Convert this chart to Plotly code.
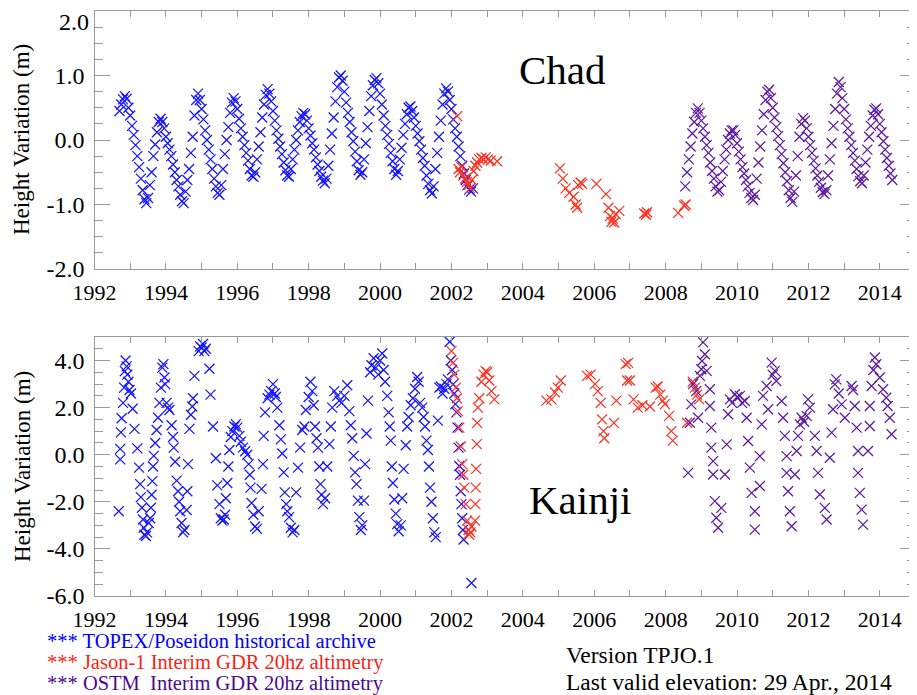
import plotly.graph_objects as go

# ---------------- DATA ----------------
# Chad - TOPEX/Poseidon
chad_topex_year = [
    1992.70, 1992.75, 1992.80, 1992.85, 1992.90, 1992.95, 1993.00, 1993.05, 1993.10, 1993.15,
    1993.20, 1993.25, 1993.30, 1993.35, 1993.40, 1993.45, 1993.50, 1993.55, 1993.60, 1993.65,
    1993.70, 1993.75, 1993.80, 1993.85, 1993.90, 1993.95, 1994.00, 1994.05, 1994.10, 1994.15,
    1994.20, 1994.25, 1994.30, 1994.35, 1994.40, 1994.45, 1994.50, 1994.55, 1994.60, 1994.65,
    1994.70, 1994.75, 1994.80, 1994.85, 1994.90, 1994.95, 1995.00, 1995.05, 1995.10, 1995.15,
    1995.20, 1995.25, 1995.30, 1995.35, 1995.40, 1995.45, 1995.50, 1995.55, 1995.60, 1995.65,
    1995.70, 1995.75, 1995.80, 1995.85, 1995.90, 1995.95, 1996.00, 1996.05, 1996.10, 1996.15,
    1996.20, 1996.25, 1996.30, 1996.35, 1996.40, 1996.45, 1996.50, 1996.55, 1996.60, 1996.65,
    1996.70, 1996.75, 1996.80, 1996.85, 1996.90, 1996.95, 1997.00, 1997.05, 1997.10, 1997.15,
    1997.20, 1997.25, 1997.30, 1997.35, 1997.40, 1997.45, 1997.50, 1997.55, 1997.60, 1997.65,
    1997.70, 1997.75, 1997.80, 1997.85, 1997.90, 1997.95, 1998.00, 1998.05, 1998.10, 1998.15,
    1998.20, 1998.25, 1998.30, 1998.35, 1998.40, 1998.45, 1998.50, 1998.55, 1998.60, 1998.65,
    1998.70, 1998.75, 1998.80, 1998.85, 1998.90, 1998.95, 1999.00, 1999.05, 1999.10, 1999.15,
    1999.20, 1999.25, 1999.30, 1999.35, 1999.40, 1999.45, 1999.50, 1999.55, 1999.60, 1999.65,
    1999.70, 1999.75, 1999.80, 1999.85, 1999.90, 1999.95, 2000.00, 2000.05, 2000.10, 2000.15,
    2000.20, 2000.25, 2000.30, 2000.35, 2000.40, 2000.45, 2000.50, 2000.55, 2000.60, 2000.65,
    2000.70, 2000.75, 2000.80, 2000.85, 2000.90, 2000.95, 2001.00, 2001.05, 2001.10, 2001.15,
    2001.20, 2001.25, 2001.30, 2001.35, 2001.40, 2001.45, 2001.50, 2001.55, 2001.60, 2001.65,
    2001.70, 2001.75, 2001.80, 2001.85, 2001.90, 2001.95, 2002.00, 2002.05, 2002.10, 2002.15,
    2002.20, 2002.25, 2002.30, 2002.35, 2002.40, 2002.45, 2002.50, 2002.55, 2002.60,
]
chad_topex_h = [
    0.45, 0.55, 0.63, 0.68, 0.64, 0.50, 0.38, 0.22, 0.08, -0.08,
    -0.25, -0.42, -0.60, -0.78, -0.92, -0.98, -0.90, -0.70, -0.50, -0.25,
    -0.07, 0.12, 0.28, 0.33, 0.28, 0.18, 0.05, -0.05, -0.15, -0.25,
    -0.38, -0.50, -0.62, -0.72, -0.85, -0.95, -0.98, -0.80, -0.62, -0.45,
    -0.20, 0.05, 0.38, 0.62, 0.72, 0.62, 0.48, 0.32, 0.15, 0.00,
    -0.15, -0.30, -0.45, -0.60, -0.72, -0.82, -0.85, -0.70, -0.45, -0.22,
    0.00, 0.20, 0.42, 0.58, 0.65, 0.60, 0.48, 0.33, 0.18, 0.05,
    -0.08, -0.20, -0.32, -0.45, -0.55, -0.57, -0.50, -0.30, -0.10, 0.12,
    0.35, 0.55, 0.70, 0.79, 0.72, 0.60, 0.45, 0.30, 0.15, 0.02,
    -0.10, -0.22, -0.35, -0.47, -0.55, -0.57, -0.45, -0.30, -0.15, 0.00,
    0.15, 0.28, 0.37, 0.42, 0.40, 0.30, 0.18, 0.07, -0.05, -0.15,
    -0.27, -0.38, -0.48, -0.57, -0.63, -0.67, -0.60, -0.40, -0.15, 0.10,
    0.35, 0.60, 0.82, 0.97, 1.00, 0.92, 0.75, 0.58, 0.42, 0.28,
    0.12, -0.02, -0.18, -0.33, -0.47, -0.54, -0.50, -0.30, -0.05, 0.20,
    0.45, 0.68, 0.85, 0.93, 0.96, 0.88, 0.72, 0.55, 0.38, 0.22,
    0.08, -0.06, -0.20, -0.33, -0.45, -0.54, -0.48, -0.30, -0.12, 0.08,
    0.25, 0.40, 0.50, 0.52, 0.45, 0.35, 0.22, 0.10, -0.02, -0.15,
    -0.28, -0.40, -0.55, -0.68, -0.78, -0.83, -0.72, -0.45, -0.20, 0.05,
    0.30, 0.55, 0.72, 0.80, 0.75, 0.62, 0.48, 0.32, 0.18, 0.05,
    -0.10, -0.25, -0.40, -0.52, -0.62, -0.70, -0.77, -0.80, -0.75,
]

# Chad - Jason-1
chad_jason_year = [
    2002.16, 2002.20, 2002.24, 2002.28, 2002.33, 2002.38, 2002.43, 2002.48, 2002.52, 2002.57,
    2002.62, 2002.67, 2002.72, 2002.78, 2002.84, 2002.90, 2002.96, 2003.02, 2003.10, 2003.28,
    2005.04, 2005.12, 2005.20, 2005.30, 2005.42, 2005.48, 2005.52, 2005.55, 2005.62, 2005.66,
    2006.06, 2006.33, 2006.40, 2006.44, 2006.48, 2006.52, 2006.56, 2006.60, 2006.70,
    2007.40, 2007.45, 2007.48, 2008.35, 2008.52, 2008.56,
]
chad_jason_h = [
    0.37, -0.45, -0.50, -0.42, -0.55, -0.60, -0.65, -0.70, -0.75, -0.62,
    -0.48, -0.40, -0.35, -0.30, -0.28, -0.30, -0.27, -0.30, -0.32, -0.33,
    -0.44, -0.60, -0.75, -0.82, -0.88, -1.00, -1.05, -0.70, -0.66, -0.68,
    -0.68, -0.84, -1.05, -1.18, -1.27, -1.22, -1.28, -1.15, -1.10,
    -1.14, -1.16, -1.12, -1.13, -1.02, -1.00,
]

# Chad - OSTM
chad_ostm_year = [
    2008.55, 2008.60, 2008.65, 2008.70, 2008.75, 2008.80, 2008.85, 2008.90, 2008.95, 2009.00,
    2009.05, 2009.10, 2009.15, 2009.20, 2009.25, 2009.30, 2009.35, 2009.40, 2009.45, 2009.50,
    2009.55, 2009.60, 2009.65, 2009.70, 2009.75, 2009.80, 2009.85, 2009.90, 2009.95, 2010.00,
    2010.05, 2010.10, 2010.15, 2010.20, 2010.25, 2010.30, 2010.35, 2010.40, 2010.45, 2010.50,
    2010.55, 2010.60, 2010.65, 2010.70, 2010.75, 2010.80, 2010.85, 2010.90, 2010.95, 2011.00,
    2011.05, 2011.10, 2011.15, 2011.20, 2011.25, 2011.30, 2011.35, 2011.40, 2011.45, 2011.50,
    2011.55, 2011.60, 2011.65, 2011.70, 2011.75, 2011.80, 2011.85, 2011.90, 2011.95, 2012.00,
    2012.05, 2012.10, 2012.15, 2012.20, 2012.25, 2012.30, 2012.35, 2012.40, 2012.45, 2012.50,
    2012.55, 2012.60, 2012.65, 2012.70, 2012.75, 2012.80, 2012.85, 2012.90, 2012.95, 2013.00,
    2013.05, 2013.10, 2013.15, 2013.20, 2013.25, 2013.30, 2013.35, 2013.40, 2013.45, 2013.50,
    2013.55, 2013.60, 2013.65, 2013.70, 2013.75, 2013.80, 2013.85, 2013.90, 2013.95, 2014.00,
    2014.05, 2014.10, 2014.15, 2014.20, 2014.25, 2014.30, 2014.35,
]
chad_ostm_h = [
    -0.72, -0.50, -0.30, -0.10, 0.10, 0.28, 0.42, 0.49, 0.42, 0.30,
    0.18, 0.05, -0.08, -0.20, -0.35, -0.48, -0.60, -0.72, -0.80, -0.78,
    -0.65, -0.48, -0.30, -0.15, 0.00, 0.10, 0.15, 0.15, 0.08, -0.05,
    -0.18, -0.30, -0.42, -0.52, -0.62, -0.72, -0.82, -0.90, -0.93, -0.85,
    -0.60, -0.35, -0.10, 0.15, 0.40, 0.62, 0.75, 0.78, 0.65, 0.50,
    0.35, 0.20, 0.06, -0.08, -0.22, -0.36, -0.50, -0.64, -0.78, -0.90,
    -0.96, -0.80, -0.55, -0.25, 0.05, 0.25, 0.34, 0.30, 0.18, 0.05,
    -0.08, -0.20, -0.32, -0.44, -0.55, -0.65, -0.74, -0.81, -0.84, -0.78,
    -0.55, -0.30, -0.05, 0.22, 0.48, 0.72, 0.90, 0.82, 0.65, 0.48,
    0.32, 0.18, 0.05, -0.08, -0.20, -0.32, -0.45, -0.56, -0.64, -0.67,
    -0.55, -0.35, -0.15, 0.05, 0.22, 0.38, 0.47, 0.49, 0.40, 0.25,
    0.12, -0.02, -0.15, -0.28, -0.40, -0.52, -0.62,
]

# Kainji - TOPEX/Poseidon
kainji_topex_year = [
    1992.68, 1992.72, 1992.72, 1992.74, 1992.76, 1992.80, 1992.83, 1992.85, 1992.87, 1992.90,
    1992.92, 1992.95, 1992.98, 1993.02, 1993.07, 1993.12, 1993.20, 1993.25, 1993.28, 1993.30,
    1993.33, 1993.36, 1993.38, 1993.40, 1993.44, 1993.47, 1993.52, 1993.56, 1993.58, 1993.60,
    1993.62, 1993.64, 1993.66, 1993.70, 1993.74, 1993.78, 1993.82, 1993.86, 1993.90, 1993.93,
    1993.96, 1993.98, 1994.02, 1994.06, 1994.10, 1994.16, 1994.20, 1994.22, 1994.26, 1994.30,
    1994.34, 1994.37, 1994.40, 1994.44, 1994.48, 1994.52, 1994.58, 1994.60, 1994.62, 1994.66,
    1994.70, 1994.74, 1994.76, 1994.80, 1994.92, 1994.96, 1995.00, 1995.04, 1995.08, 1995.12,
    1995.22, 1995.25, 1995.32, 1995.40, 1995.44, 1995.50, 1995.54, 1995.58, 1995.62, 1995.66,
    1995.68, 1995.72, 1995.75, 1995.78, 1995.82, 1995.86, 1995.92, 1995.96, 1996.00, 1996.06,
    1996.10, 1996.16, 1996.22, 1996.28, 1996.32, 1996.35, 1996.37, 1996.40, 1996.45, 1996.50,
    1996.55, 1996.60, 1996.68, 1996.72, 1996.74, 1996.78, 1996.85, 1996.90, 1996.95, 1997.00,
    1997.05, 1997.08, 1997.12, 1997.18, 1997.22, 1997.26, 1997.30, 1997.33, 1997.37, 1997.40,
    1997.45, 1997.50, 1997.55, 1997.60, 1997.65, 1997.70, 1997.76, 1997.82, 1997.88, 1997.92,
    1998.00, 1998.05, 1998.10, 1998.14, 1998.18, 1998.22, 1998.26, 1998.30, 1998.33, 1998.36,
    1998.40, 1998.46, 1998.52, 1998.58, 1998.62, 1998.66, 1998.72, 1998.80, 1998.86, 1998.92,
    1999.00, 1999.08, 1999.14, 1999.18, 1999.22, 1999.26, 1999.30, 1999.34, 1999.38, 1999.42,
    1999.46, 1999.50, 1999.55, 1999.58, 1999.62, 1999.66, 1999.72, 1999.76, 1999.82, 1999.88,
    1999.95, 2000.00, 2000.06, 2000.10, 2000.14, 2000.20, 2000.24, 2000.27, 2000.30, 2000.33,
    2000.36, 2000.40, 2000.44, 2000.48, 2000.52, 2000.58, 2000.62, 2000.66, 2000.72, 2000.76,
    2000.80, 2000.86, 2000.92, 2000.98, 2001.04, 2001.08, 2001.12, 2001.18, 2001.22, 2001.26,
    2001.30, 2001.34, 2001.37, 2001.40, 2001.44, 2001.48, 2001.52, 2001.56, 2001.62, 2001.66,
    2001.70, 2001.75, 2001.80, 2001.86, 2001.90, 2001.95, 2001.98, 2002.02, 2002.05, 2002.08,
    2002.11, 2002.14, 2002.17, 2002.20, 2002.22, 2002.24, 2002.26, 2002.28, 2002.30, 2002.32,
    2002.34, 2002.56,
]
kainji_topex_h = [
    -2.40, -0.20, 0.25, 0.95, 1.55, 2.20, 2.85, 3.55, 4.00, 3.75,
    3.40, 3.10, 2.75, 2.60, 1.95, 1.10, 0.27, -0.55, -1.25, -1.80,
    -2.25, -2.75, -3.10, -3.40, -3.45, -3.30, -2.90, -2.70, -2.25, -1.70,
    -1.12, -0.50, -0.05, 0.50, 1.05, 1.57, 2.20, 2.85, 3.70, 3.85,
    3.28, 3.00, 2.20, 2.00, 1.90, 1.25, 0.75, 0.30, -0.30, -1.10,
    -1.55, -2.00, -2.40, -2.90, -3.30, -3.20, -2.35, -1.55, -0.40, 1.10,
    1.70, 2.05, 2.40, 3.35, 4.40, 4.60, 4.55, 4.70, 4.40, 4.50,
    3.65, 2.55, 1.20, -0.15, -1.30, -2.10, -2.70, -2.80, -2.75, -2.55,
    -1.85, -1.20, -0.50, 0.20, 0.75, 1.00, 1.20, 1.30, 1.15, 0.80,
    0.55, 0.30, 0.15, 0.00, -0.40, -0.85, -1.40, -2.05, -2.55, -3.05,
    -3.15, -2.40, -1.45, -0.40, 0.80, 1.80, 2.40, 2.55, 2.70, 3.00,
    2.60, 2.45, 2.00, 1.25, 0.65, 0.05, -0.75, -1.60, -2.10, -2.40,
    -2.65, -3.10, -3.30, -3.20, -1.60, -0.55, 0.30, 1.05, 1.20, 1.90,
    2.45, 3.10, 2.70, 2.10, 1.20, 0.70, 0.30, -0.50, -1.25, -1.70,
    -2.10, -1.85, -0.50, 0.45, 1.20, 2.00, 2.70, 2.50, 2.30, 2.20,
    2.50, 2.95, 1.85, 1.25, 0.70, -0.05, -0.75, -1.25, -1.95, -2.65,
    -3.20, -3.00, -1.95, -0.40, 0.90, 2.30, 3.50, 3.80, 4.10, 3.70,
    3.40, 4.00, 4.30, 3.60, 3.10, 2.50, 1.80, 1.20, 0.60, -0.50,
    -1.20, -1.90, -2.50, -2.95, -3.25, -3.00, -1.85, -0.60, 0.40, 1.20,
    1.60, 2.10, 2.40, 2.80, 3.30, 3.10, 2.20, 2.00, 1.60, 1.20,
    0.60, 0.20, -0.50, -1.40, -2.00, -2.70, -3.30, -3.50, 1.45, 2.85,
    2.90, 2.60, 2.80, 3.00, 3.20, 4.80, 4.00, 3.60, 3.00, 2.60,
    2.15, 1.80, 1.15, 0.30, -0.48, -0.85, -1.55, -2.10, -2.70, -3.20,
    -3.60, -5.45,
]

# Kainji - Jason-1
kainji_jason_year = [
    2002.00, 2002.04, 2002.08, 2002.12, 2002.15, 2002.18, 2002.22, 2002.26, 2002.30, 2002.33,
    2002.36, 2002.40, 2002.44, 2002.48, 2002.50, 2002.53, 2002.56, 2002.66, 2002.67, 2002.68,
    2002.69, 2002.71, 2002.72, 2002.74, 2002.78, 2002.84, 2002.90, 2002.96, 2003.00, 2003.06,
    2003.12, 2003.20,
    2004.66, 2004.80, 2004.90, 2004.98, 2005.06,
    2005.80, 2005.90, 2006.02, 2006.10, 2006.18, 2006.22, 2006.26, 2006.28, 2006.55, 2006.62,
    2006.88, 2006.95, 2006.92, 2007.00, 2007.10, 2007.22, 2007.35, 2007.56, 2007.72, 2007.78,
    2007.85, 2007.92, 2007.98, 2008.10, 2008.16, 2008.20, 2008.60, 2008.76, 2008.82, 2008.88,
    2008.94,
]
kainji_jason_h = [
    4.40, 3.90, 3.40, 2.85, 2.40, 1.85, 1.15, 0.35, -0.40, -0.85,
    -1.40, -2.10, -2.80, -3.20, -3.40, -3.30, -3.05, -2.80, -2.10, -1.40,
    -0.60, 0.45, 1.35, 2.00, 2.40, 3.10, 3.40, 3.55, 3.50, 3.15,
    2.70, 2.35,
    2.30, 2.35, 2.65, 2.85, 3.15,
    3.35, 3.40, 3.00, 2.70, 2.20, 1.50, 1.00, 0.70, 1.35, 2.30,
    3.85, 3.90, 3.15, 3.15, 2.35, 2.00, 2.10, 2.05, 2.85, 2.90,
    2.55, 2.30, 2.15, 1.65, 1.00, 0.60, 1.36, 3.10, 2.85, 2.55,
    2.35,
]

# Kainji - OSTM
kainji_ostm_year = [
    2008.63, 2008.68, 2008.72, 2008.77, 2008.86, 2008.91, 2008.96, 2009.00, 2009.02, 2009.05,
    2009.10, 2009.15, 2009.24, 2009.24, 2009.28, 2009.28, 2009.33, 2009.33, 2009.38, 2009.42,
    2009.47, 2009.56, 2009.66, 2009.71, 2009.75, 2009.80, 2009.86, 2009.94, 2010.00, 2010.08,
    2010.14, 2010.22, 2010.27, 2010.31, 2010.36, 2010.41, 2010.50, 2010.50, 2010.64, 2010.64,
    2010.69, 2010.73, 2010.83, 2010.87, 2010.97, 2011.00, 2011.06, 2011.10, 2011.25, 2011.29,
    2011.34, 2011.39, 2011.39, 2011.43, 2011.48, 2011.53, 2011.62, 2011.67, 2011.71, 2011.76,
    2011.81, 2011.88, 2011.95, 2011.99, 2012.04, 2012.18, 2012.23, 2012.27, 2012.32, 2012.46,
    2012.51, 2012.60, 2012.65, 2012.69, 2012.74, 2012.78, 2012.85, 2012.93, 2013.02, 2013.21,
    2013.25, 2013.30, 2013.35, 2013.39, 2013.39, 2013.44, 2013.49, 2013.53, 2013.67, 2013.72,
    2013.72, 2013.77, 2013.82, 2013.86, 2013.90, 2014.00, 2014.09, 2014.18, 2014.22, 2014.28,
    2014.33,
]
kainji_ostm_h = [
    -0.77, 1.36, 2.14, 3.00, 2.70, 1.57, 3.35, 3.63, 3.98, 4.77,
    4.27, 3.56, 2.78, 2.07, 1.15, 0.30, -0.27, -0.84, -1.97, -2.68,
    -3.10, -2.26, -0.84, 0.44, 1.72, 2.35, 2.20, 2.57, 2.45, 2.50,
    2.20, 2.28, 1.57, 0.58, -0.55, -1.62, -2.40, -3.18, -1.33, -0.06,
    1.29, 2.50, 2.92, 1.93, 3.91, 3.40, 3.56, 3.13, 2.28, 1.57,
    0.80, -0.06, -0.77, -1.55, -2.40, -3.04, -0.84, 0.16, 0.80, 1.29,
    1.57, 1.40, 1.65, 2.35, 2.00, 0.80, 0.16, -0.77, -1.69, -2.26,
    -2.75, -0.13, 0.94, 1.93, 2.99, 3.20, 2.60, 2.14, 1.57, 2.92,
    2.75, 2.07, 1.15, 0.16, -0.77, -1.62, -2.33, -2.97, 0.16, 1.22,
    2.07, 2.92, 3.60, 4.13, 3.84, 3.28, 2.78, 2.42, 2.07, 1.57,
    0.87,
]

x_tick_years = [1992, 1994, 1996, 1998, 2000, 2002, 2004, 2006, 2008, 2010, 2012, 2014]
chad_y_ticks = [-2.0, -1.0, 0.0, 1.0, 2.0]
kainji_y_ticks = [-6.0, -4.0, -2.0, 0.0, 2.0, 4.0]

legend_lines = [
    ("*** TOPEX/Poseidon historical archive", "#0000FF"),
    ("*** Jason-1 Interim GDR 20hz altimetry", "#FF1E10"),
    ("*** OSTM  Interim GDR 20hz altimetry", "#4E0A8E"),
]
version_lines = ["Version TPJO.1", "Last valid elevation: 29 Apr., 2014"]

# ---------------- STYLE ----------------
W, H = 917, 695
OFF = 8  # page body margin: figure is drawn 8 px right/down of the window corner
BLUE, RED, PURPLE = "#1414FF", "#FF3020", "#5E1AA0"
SERIF = "Liberation Serif"
FRAME = "#9a9a9a"


def px_x(px):
    return (px - OFF) / W


def px_y(py):
    return 1 - (py - OFF) / H


def marker(color):
    return dict(symbol="x-thin-open", size=10, color=color, line=dict(width=1.25, color=color))


fig = go.Figure()
series = [
    (chad_topex_year, chad_topex_h, BLUE, "x", "y"),
    (chad_jason_year, chad_jason_h, RED, "x", "y"),
    (chad_ostm_year, chad_ostm_h, PURPLE, "x", "y"),
    (kainji_topex_year, kainji_topex_h, BLUE, "x2", "y2"),
    (kainji_jason_year, kainji_jason_h, RED, "x2", "y2"),
    (kainji_ostm_year, kainji_ostm_h, PURPLE, "x2", "y2"),
]
for xs, ys, col, xa, ya in series:
    fig.add_trace(go.Scatter(x=xs, y=ys, mode="markers", marker=marker(col),
                             xaxis=xa, yaxis=ya, showlegend=False, hoverinfo="skip"))

x_dom = [px_x(94.5), px_x(915.5)]


def xaxis(anchor):
    return dict(
        domain=x_dom, range=[1992, 2015], anchor=anchor, automargin=False,
        tickvals=x_tick_years, ticktext=[str(v) for v in x_tick_years],
        ticks="inside", ticklen=6, tickcolor=FRAME, tickwidth=1,
        minor=dict(dtick=1, tick0=1992, ticks="inside", ticklen=6, tickcolor=FRAME),
        showline=True, linecolor=FRAME, linewidth=1.2, mirror="ticks",
        showgrid=False, zeroline=False,
        tickfont=dict(family=SERIF, size=22, color="black"),
        ticklabelstandoff=3, ticklabeloverflow="allow",
    )


def yaxis(anchor, dom, rng, tickv, tickt, minor_dt):
    return dict(
        domain=dom, range=rng, anchor=anchor, automargin=False,
        tickvals=tickv, ticktext=tickt,
        ticks="inside", ticklen=15, tickcolor=FRAME, tickwidth=1,
        minor=dict(dtick=minor_dt, tick0=0, ticks="inside", ticklen=8, tickcolor=FRAME),
        showline=True, linecolor=FRAME, linewidth=1.2, mirror="ticks",
        showgrid=False, zeroline=False,
        tickfont=dict(family=SERIF, size=24, color="black"),
        ticklabelstandoff=4, ticklabeloverflow="allow",
    )


# the top label of the upper panel sits a few px below its tick (as in the original), drawn separately
chad_tick_text = ["%.1f" % v if v < 2.0 else "" for v in chad_y_ticks]

fig.update_layout(
    width=W, height=H, autosize=False,
    margin=dict(l=0, r=0, t=0, b=0, pad=0, autoexpand=False),
    paper_bgcolor="white", plot_bgcolor="white",
    font=dict(family=SERIF, color="black"),
    xaxis=xaxis("y"),
    yaxis=yaxis("x", [px_y(269), px_y(11)], [-2.001, 2.001], chad_y_ticks, chad_tick_text, 0.25),
    xaxis2=xaxis("y2"),
    yaxis2=yaxis("x2", [px_y(596), px_y(337)], [-6.001, 5], kainji_y_ticks,
                 ["%.1f" % v for v in kainji_y_ticks], 0.5),
)

ann = []
ann.append(dict(text="%.1f" % chad_y_ticks[-1], x=px_x(90), y=px_y(8), xref="paper", yref="paper",
                showarrow=False, xanchor="right", yanchor="top", borderpad=0,
                font=dict(family=SERIF, size=24, color="black")))
for yc in (140, 467):
    ann.append(dict(text="Height Variation (m)", x=px_x(22), y=px_y(yc), xref="paper", yref="paper",
                    textangle=-90, showarrow=False, xanchor="center", yanchor="middle",
                    font=dict(family=SERIF, size=23, color="black")))
ann.append(dict(text="Chad", x=px_x(562), y=px_y(70), xref="paper", yref="paper", showarrow=False,
                xanchor="center", yanchor="middle", font=dict(family=SERIF, size=41, color="black")))
ann.append(dict(text="Kainji", x=px_x(580), y=px_y(500), xref="paper", yref="paper", showarrow=False,
                xanchor="center", yanchor="middle", font=dict(family=SERIF, size=41, color="black")))
for (txt, col), yc in zip(legend_lines, (641, 662, 683)):
    ann.append(dict(text=txt, x=px_x(45), y=px_y(yc), xref="paper", yref="paper", showarrow=False,
                    xanchor="left", yanchor="middle", font=dict(family=SERIF, size=20.5, color=col)))
for txt, yc in zip(version_lines, (655, 682)):
    ann.append(dict(text=txt, x=px_x(565), y=px_y(yc), xref="paper", yref="paper", showarrow=False,
                    xanchor="left", yanchor="middle", borderpad=0,
                    font=dict(family=SERIF, size=23.5, color="black")))
fig.update_layout(annotations=ann)

fig.write_html("out.html")
